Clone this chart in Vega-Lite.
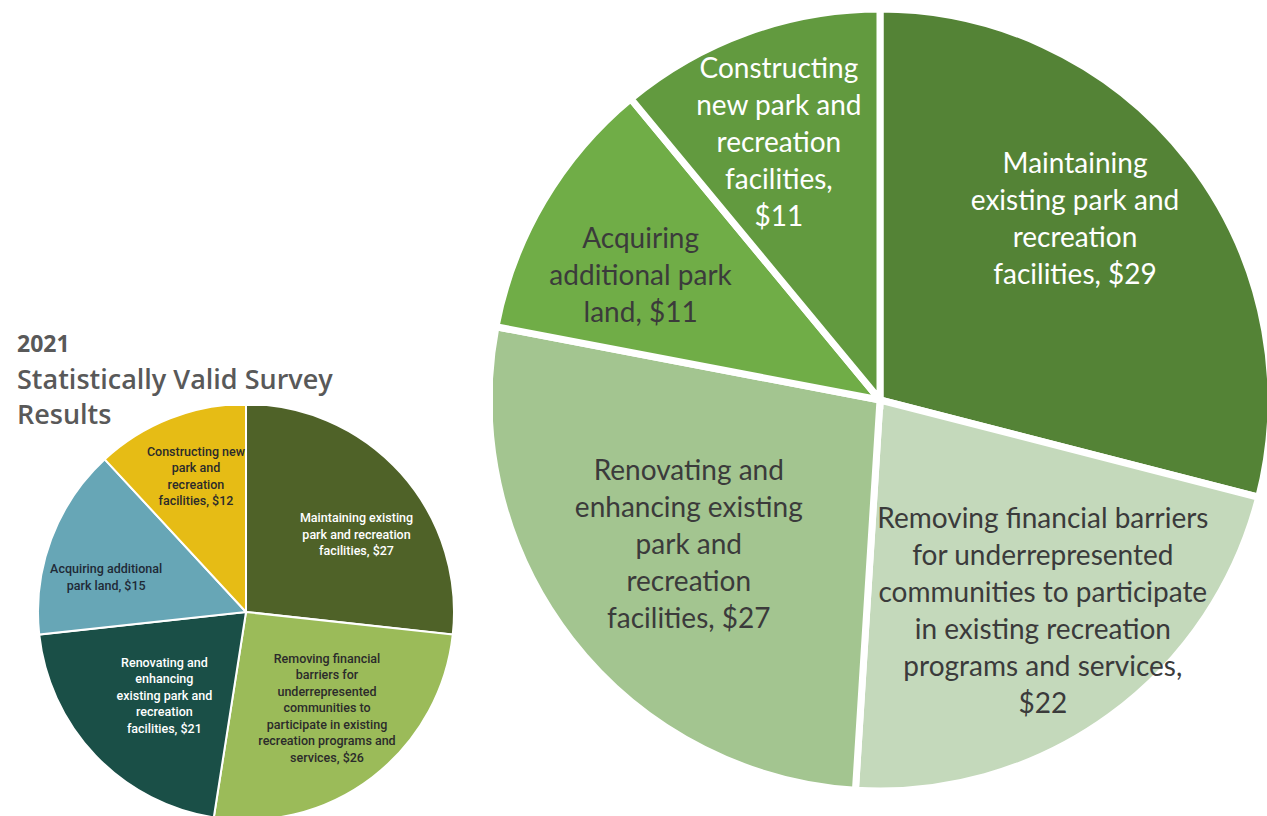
{
  "$schema": "https://vega.github.io/schema/vega-lite/v6.json",
  "padding": {"left": 17, "top": 8, "right": 0, "bottom": 0},
  "background": "white",
  "config": {"view": {"stroke": null}},
  "resolve": {"scale": {"color": "independent", "theta": "independent"}},
  "spacing": 38,
  "hconcat": [
    {
      "spacing": 0,
      "vconcat": [
        {
          "width": 418,
          "height": 326,
          "data": {"values": [{"blank": ""}]},
          "mark": {"type": "text"},
          "encoding": {"text": {"field": "blank"}}
        },
        {
          "width": 418,
          "height": 412,
          "title": {
            "text": "2021",
            "subtitle": ["Statistically Valid Survey", "Results"],
            "anchor": "start",
            "dx": -20,
            "offset": -23,
            "font": "Open Sans",
            "fontSize": 23,
            "fontWeight": "bold",
            "color": "#595959",
            "subtitleFont": "Open Sans",
            "subtitleFontSize": 27,
            "subtitleFontWeight": 600,
            "subtitleColor": "#595959",
            "subtitleLineHeight": 35,
            "subtitlePadding": 11
          },
          "data": {
            "values": [
              {"rank": 1, "category": "Maintaining", "value": 27, "label": "Maintaining existing\npark and recreation\nfacilities, $27"},
              {"rank": 2, "category": "Removing", "value": 26, "label": "Removing financial\nbarriers for\nunderrepresented\ncommunities to\nparticipate in existing\nrecreation programs and\nservices, $26"},
              {"rank": 3, "category": "Renovating", "value": 21, "label": "Renovating and\nenhancing\nexisting park and\nrecreation\nfacilities, $21"},
              {"rank": 4, "category": "Acquiring", "value": 15, "label": "Acquiring additional\npark land, $15"},
              {"rank": 5, "category": "Constructing", "value": 12, "label": "Constructing new\npark and\nrecreation\nfacilities, $12"}
            ]
          },
          "encoding": {
            "theta": {"field": "value", "type": "quantitative", "stack": true},
            "order": {"field": "rank", "type": "quantitative"}
          },
          "layer": [
            {
              "mark": {"type": "arc", "outerRadius": 208, "stroke": "white", "strokeWidth": 2, "clip": true},
              "encoding": {
                "color": {
                  "field": "category",
                  "type": "nominal",
                  "legend": null,
                  "scale": {
                    "domain": ["Maintaining", "Removing", "Renovating", "Acquiring", "Constructing"],
                    "range": ["#4f6228", "#9bbb59", "#1a4f47", "#67a6b6", "#e6bc15"]
                  }
                }
              }
            },
            {
              "mark": {"type": "text", "radius": 135, "dx": 10, "dy": -3.5, "font": "Roboto", "fontSize": 12.5, "fontWeight": 500, "lineHeight": 16.5, "lineBreak": "\n", "color": "#ffffff"},
              "encoding": {"text": {"condition": {"test": "datum.category === 'Maintaining'", "field": "label"}, "value": ""}}
            },
            {
              "mark": {"type": "text", "radius": 130, "dx": 2, "dy": -56.5, "font": "Roboto", "fontSize": 12.5, "fontWeight": 500, "lineHeight": 16.5, "lineBreak": "\n", "color": "#2b2b2b"},
              "encoding": {"text": {"condition": {"test": "datum.category === 'Removing'", "field": "label"}, "value": ""}}
            },
            {
              "mark": {"type": "text", "radius": 117, "dx": 3, "dy": -30, "font": "Roboto", "fontSize": 12.5, "fontWeight": 500, "lineHeight": 16.5, "lineBreak": "\n", "color": "#ffffff"},
              "encoding": {"text": {"condition": {"test": "datum.category === 'Renovating'", "field": "label"}, "value": ""}}
            },
            {
              "mark": {"type": "text", "radius": 145, "dx": -4, "dy": 8, "font": "Roboto", "fontSize": 12.5, "fontWeight": 500, "lineHeight": 16.5, "lineBreak": "\n", "color": "#1f2a36"},
              "encoding": {"text": {"condition": {"test": "datum.category === 'Acquiring'", "field": "label"}, "value": ""}}
            },
            {
              "mark": {"type": "text", "radius": 140, "dx": 1, "dy": -30, "font": "Roboto", "fontSize": 12.5, "fontWeight": 500, "lineHeight": 16.5, "lineBreak": "\n", "color": "#2b2b2b"},
              "encoding": {"text": {"condition": {"test": "datum.category === 'Constructing'", "field": "label"}, "value": ""}}
            }
          ]
        }
      ]
    },
    {
      "width": 774,
      "height": 784,
      "data": {
        "values": [
          {"rank": 1, "category": "Maintaining", "value": 29, "label": "Maintaining\nexisting park and\nrecreation\nfacilities, $29"},
          {"rank": 2, "category": "Removing", "value": 22, "label": "Removing financial barriers\nfor underrepresented\ncommunities to participate\nin existing recreation\nprograms and services,\n$22"},
          {"rank": 3, "category": "Renovating", "value": 27, "label": "Renovating and\nenhancing existing\npark and\nrecreation\nfacilities, $27"},
          {"rank": 4, "category": "Acquiring", "value": 11, "label": "Acquiring\nadditional park\nland, $11"},
          {"rank": 5, "category": "Constructing", "value": 11, "label": "Constructing\nnew park and\nrecreation\nfacilities,\n$11"}
        ]
      },
      "encoding": {
        "theta": {"field": "value", "type": "quantitative", "stack": true},
        "order": {"field": "rank", "type": "quantitative"}
      },
      "layer": [
        {
          "mark": {"type": "arc", "outerRadius": 391, "stroke": "white", "strokeWidth": 7, "clip": true},
          "encoding": {
            "color": {
              "field": "category",
              "type": "nominal",
              "legend": null,
              "scale": {
                "domain": ["Maintaining", "Removing", "Renovating", "Acquiring", "Constructing"],
                "range": ["#548336", "#c4d9bb", "#a3c590", "#70ad47", "#629a3f"]
              }
            }
          }
        },
        {
          "mark": {"type": "text", "radius": 262, "dx": -12, "dy": -74, "font": "Lato", "fontSize": 28, "lineHeight": 37, "lineBreak": "\n", "color": "#ffffff"},
          "encoding": {"text": {"condition": {"test": "datum.category === 'Maintaining'", "field": "label"}, "value": ""}}
        },
        {
          "mark": {"type": "text", "radius": 260, "dx": 10, "dy": -90, "font": "Lato", "fontSize": 28, "lineHeight": 37, "lineBreak": "\n", "color": "#3b3b3b"},
          "encoding": {"text": {"condition": {"test": "datum.category === 'Removing'", "field": "label"}, "value": ""}}
        },
        {
          "mark": {"type": "text", "radius": 242, "dx": 0, "dy": -76, "font": "Lato", "fontSize": 28, "lineHeight": 37, "lineBreak": "\n", "color": "#3b3b3b"},
          "encoding": {"text": {"condition": {"test": "datum.category === 'Renovating'", "field": "label"}, "value": ""}}
        },
        {
          "mark": {"type": "text", "radius": 270, "dx": -7, "dy": -23, "font": "Lato", "fontSize": 28, "lineHeight": 37, "lineBreak": "\n", "color": "#3b3b3b"},
          "encoding": {"text": {"condition": {"test": "datum.category === 'Acquiring'", "field": "label"}, "value": ""}}
        },
        {
          "mark": {"type": "text", "radius": 272, "dx": -9, "dy": -74, "font": "Lato", "fontSize": 28, "lineHeight": 37, "lineBreak": "\n", "color": "#ffffff"},
          "encoding": {"text": {"condition": {"test": "datum.category === 'Constructing'", "field": "label"}, "value": ""}}
        }
      ]
    }
  ]
}
